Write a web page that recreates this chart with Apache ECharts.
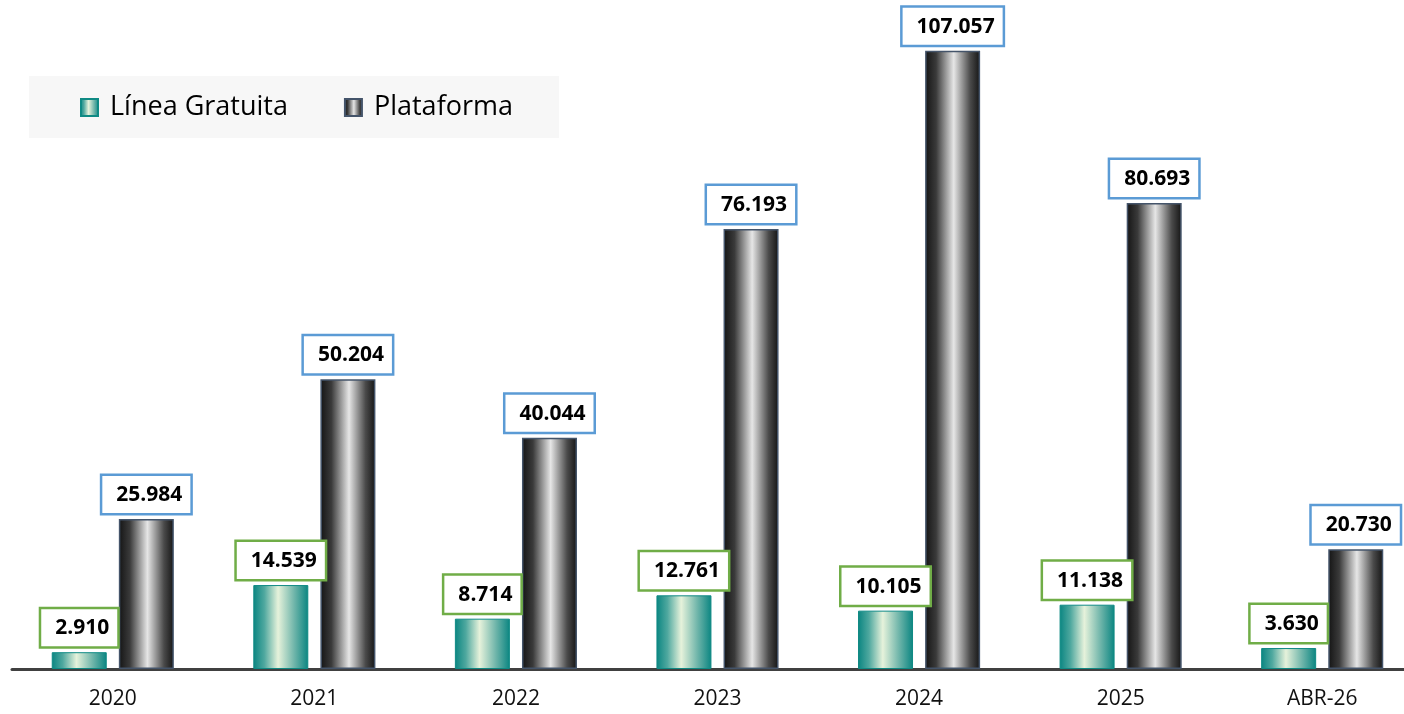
<!DOCTYPE html>
<html>
<head>
<meta charset="utf-8">
<script src="https://cdn.jsdelivr.net/npm/echarts@6/dist/echarts.min.js"></script>
<style>
html,body{margin:0;padding:0;background:#fff;overflow:hidden;width:1404px;height:714px;}
#chart{width:1423px;height:714px;}
</style>
</head>
<body>
<div id="chart"></div>
<script>
const categories = ['2020','2021','2022','2023','2024','2025','ABR-26'];
const lineaGratuita = [2910, 14539, 8714, 12761, 10105, 11138, 3630];
const plataforma = [25984, 50204, 40044, 76193, 107057, 80693, 20730];
const seriesNames = ['Línea Gratuita', 'Plataforma'];

function fmt(v){
  return String(v).replace(/\B(?=(\d{3})+(?!\d))/g, '.');
}

const greenGrad = new echarts.graphic.LinearGradient(0,0,1,0,[
  {offset:0, color:'#0a8581'},
  {offset:0.2, color:'#4fa89f'},
  {offset:0.45, color:'#e6f2db'},
  {offset:0.75, color:'#6db4a9'},
  {offset:1, color:'#0a8581'}
]);
const grayGrad = new echarts.graphic.LinearGradient(0,0,1,0,[
  {offset:0, color:'#141414'},
  {offset:0.2, color:'#3a3a3a'},
  {offset:0.52, color:'#e6e6e6'},
  {offset:0.82, color:'#4a4a4a'},
  {offset:1, color:'#141414'}
]);

function labelCfg(borderColor){
  return {
    show:true,
    position:'top',
    distance:6,
    formatter:p=>fmt(p.value),
    fontFamily:'Open Sans',
    fontWeight:'bold',
    fontSize:21,
    color:'#000',
    backgroundColor:'#fff',
    borderColor:borderColor,
    borderWidth:2.5,
    padding:[7,8,6,14],
    lineHeight:24
  };
}

const chart = echarts.init(document.getElementById('chart'), null, {renderer:'canvas'});
chart.setOption({
  animation:false,
  backgroundColor:'#fff',
  graphic:[{
    type:'rect',
    left:29, top:76, z:-10,
    shape:{width:530, height:62},
    style:{fill:'#f7f7f7'}
  }],
  legend:{
    left:80, top:94, padding:0,
    icon:'rect',
    itemWidth:17, itemHeight:17,
    itemGap:56,
    textStyle:{fontFamily:'Open Sans', fontSize:27, color:'#000', padding:[0,0,0,7]},
    data:seriesNames
  },
  grid:{left:12, right:0, top:5, bottom:45, containLabel:false},
  xAxis:{
    type:'category',
    data:categories,
    axisLine:{show:true, lineStyle:{color:'#404040', width:3}},
    axisTick:{show:false},
    axisLabel:{fontFamily:'Open Sans', fontSize:21, color:'#111', margin:20}
  },
  yAxis:{
    type:'value', min:0, max:115000, show:false,
    splitLine:{show:false}
  },
  series:[
    {
      name:seriesNames[0], type:'bar', data:lineaGratuita,
      barWidth:55, barGap:'22%',
      itemStyle:{color:greenGrad, borderColor:'#0f8a84', borderWidth:1},
      label:labelCfg('#70ad47')
    },
    {
      name:seriesNames[1], type:'bar', data:plataforma,
      barWidth:55, barGap:'22%',
      itemStyle:{color:grayGrad, borderColor:'#44546a', borderWidth:1.5},
      label:labelCfg('#5b9bd5')
    }
  ]
});
</script>
</body>
</html>
